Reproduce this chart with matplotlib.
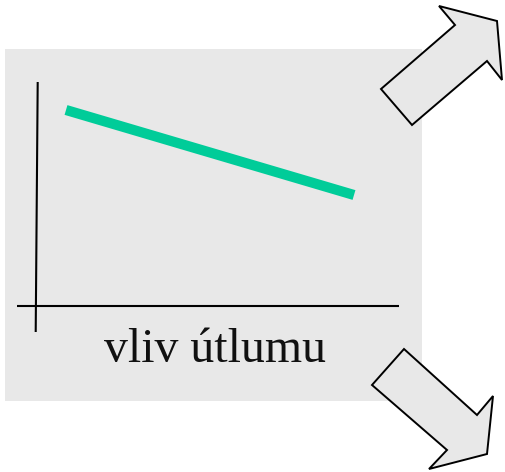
import matplotlib
matplotlib.use("Agg")
import matplotlib.pyplot as plt
from matplotlib.patches import Rectangle, Polygon

# diagram geometry, in pixels of the 506x472 picture (y grows downwards)
panel_box = [5, 49, 417, 352]          # x, y, width, height of the grey panel

y_axis_x = [37.7, 35.7]
y_axis_y = [82, 332]
x_axis_x = [17, 399]
x_axis_y = [306, 306]

# the falling trend line
trend_x = [66, 354]
trend_y = [110, 195]

label = "vliv útlumu"

arrow_up_x = [381, 455, 439, 497, 502, 487, 412]
arrow_up_y = [89, 25, 6, 21, 80, 61, 125]
arrow_down_x = [372, 404, 477, 493, 487, 429, 447]
arrow_down_y = [385, 349, 415, 396, 454, 469, 450]

grey = "#e8e8e8"
green = "#00cc99"

fig = plt.figure(figsize=(5.06, 4.72), dpi=100)
ax = fig.add_axes([0, 0, 1, 1])
ax.set_xlim(0, 506)
ax.set_ylim(472, 0)
ax.axis("off")

ax.add_patch(Rectangle((panel_box[0], panel_box[1]), panel_box[2], panel_box[3],
                       facecolor=grey, edgecolor="none"))

ax.plot(y_axis_x, y_axis_y, color="black", lw=1.5, solid_capstyle="butt")
ax.plot(x_axis_x, x_axis_y, color="black", lw=1.5, solid_capstyle="butt")

ax.plot(trend_x, trend_y, color=green, lw=7.3, solid_capstyle="butt")

ax.text(215, 362, label, ha="center", va="baseline", fontsize=34.5,
        family=["Liberation Serif", "DejaVu Serif"], color="#111111")

for xs, ys in [(arrow_up_x, arrow_up_y), (arrow_down_x, arrow_down_y)]:
    ax.add_patch(Polygon(list(zip(xs, ys)), closed=True, facecolor=grey,
                         edgecolor="black", lw=1.4, joinstyle="miter"))

fig.savefig("out.png", dpi=100)
